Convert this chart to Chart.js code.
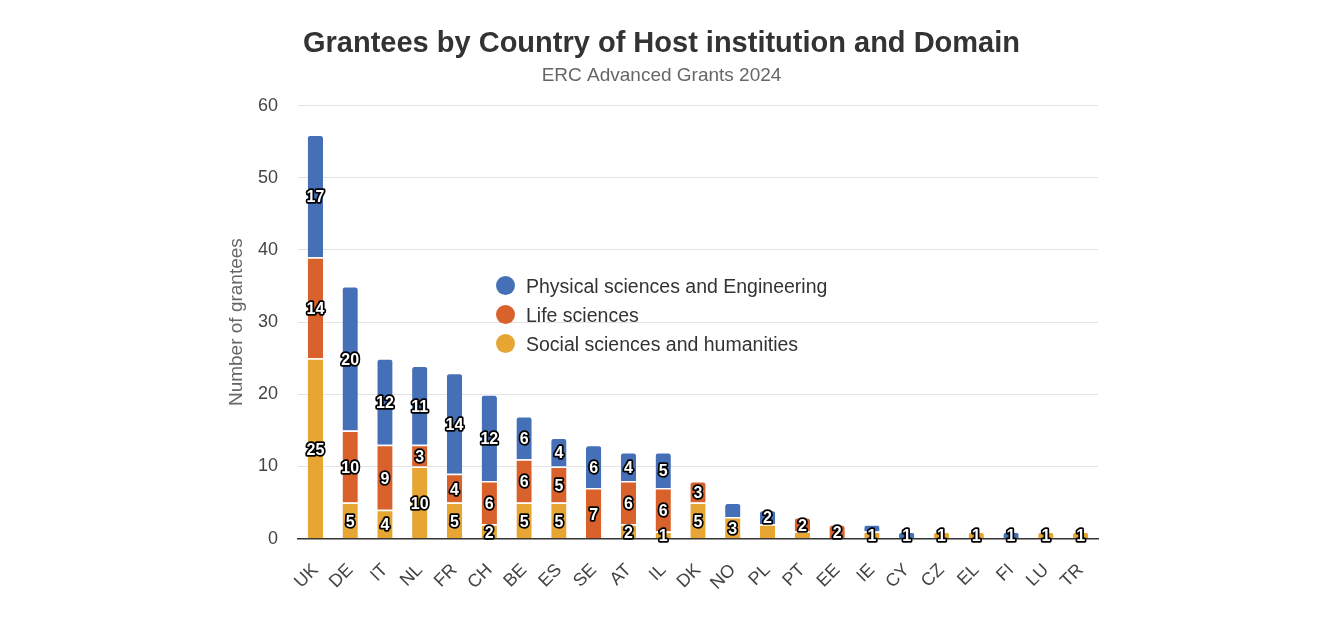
<!DOCTYPE html>
<html>
<head>
<meta charset="utf-8">
<script src="https://cdn.jsdelivr.net/npm/chart.js@4"></script>
<style>
  html, body { margin: 0; padding: 0; background: #fff; }
  #wrap { position: relative; width: 1320px; height: 636px; }
  #legend { position: absolute; left: 496px; top: 271px; font-family: "Liberation Sans", Arial, sans-serif; font-size: 19.5px; color: #333; }
  #legend div { height: 29px; line-height: 28px; display: flex; align-items: center; }
  #legend span.dot { width: 19px; height: 19px; border-radius: 50%; display: inline-block; margin-right: 11px; }
</style>
</head>
<body>
<div id="wrap">
  <canvas id="chart" width="1320" height="636"></canvas>
  <div id="legend"></div>
</div>
<script>
// Data
const countries = ["UK", "DE", "IT", "NL", "FR", "CH", "BE", "ES", "SE", "AT", "IL", "DK",
                   "NO", "PL", "PT", "EE", "IE", "CY", "CZ", "EL", "FI", "LU", "TR"];
const socialSciences   = [25, 5, 4, 10, 5, 2, 5, 5, 0, 2, 1, 5, 3, 2, 1, 0, 1, 0, 1, 1, 0, 1, 1];
const lifeSciences     = [14, 10, 9, 3, 4, 6, 6, 5, 7, 6, 6, 3, 0, 0, 2, 2, 0, 0, 0, 0, 0, 0, 0];
const physicalSciences = [17, 20, 12, 11, 14, 12, 6, 4, 6, 4, 5, 0, 2, 2, 0, 0, 1, 1, 0, 0, 1, 0, 0];
const yTicks = [0, 10, 20, 30, 40, 50, 60];
// labels the original chart leaves out where they would collide
const hiddenLabels = ["NO:Physical sciences and Engineering", "PL:Social sciences and humanities",
                      "PT:Social sciences and humanities", "IE:Physical sciences and Engineering"];

const FONT = '"Liberation Sans", Arial, sans-serif';
const colors = {
    physical: "#4570b8",
    life: "#d9612c",
    social: "#e7a634"
};

const toBars = arr => arr.map(v => v === 0 ? null : v);

const datasets = [
    { label: "Social sciences and humanities", data: toBars(socialSciences), backgroundColor: colors.social },
    { label: "Life sciences", data: toBars(lifeSciences), backgroundColor: colors.life },
    { label: "Physical sciences and Engineering", data: toBars(physicalSciences), backgroundColor: colors.physical }
].map(ds => Object.assign(ds, {
    borderColor: "#ffffff",
    borderWidth: { top: 1.5, left: 0, right: 0, bottom: 0 },
    borderRadius: 4,
    barPercentage: 0.44,
    categoryPercentage: 1
}));

// Draw the segment values (white text, black outline)
const segmentLabels = {
    id: "segmentLabels",
    afterDatasetsDraw(chart) {
        const ctx = chart.ctx;
        ctx.save();
        ctx.font = "bold 16px " + FONT;
        ctx.textAlign = "center";
        ctx.textBaseline = "middle";
        ctx.lineJoin = "round";
        chart.data.datasets.forEach((ds, di) => {
            const meta = chart.getDatasetMeta(di);
            meta.data.forEach((bar, i) => {
                const v = ds.data[i];
                if (!v) return;
                if (hiddenLabels.includes(countries[i] + ":" + ds.label)) return;
                const y = (bar.y + bar.base) / 2;
                ctx.lineWidth = 3.5;
                ctx.strokeStyle = "#000";
                ctx.strokeText(String(v), bar.x, y + 2);
                ctx.fillStyle = "#fff";
                ctx.fillText(String(v), bar.x, y + 2);
            });
        });
        ctx.restore();
    }
};

const chart = new Chart(document.getElementById("chart"), {
    type: "bar",
    data: { labels: countries, datasets: datasets },
    options: {
        responsive: false,
        animation: false,
        layout: { padding: { left: 225, right: 222, top: 27, bottom: 29 } },
        plugins: {
            legend: { display: false },
            tooltip: { enabled: false },
            title: {
                display: true,
                text: "Grantees by Country of Host institution and Domain",
                color: "#333",
                font: { family: FONT, size: 29, weight: "bold" },
                padding: { top: 0, bottom: 3 }
            },
            subtitle: {
                display: true,
                text: "ERC Advanced Grants 2024",
                color: "#666",
                font: { family: FONT, size: 19 },
                padding: { top: 0, bottom: 18 }
            }
        },
        scales: {
            x: {
                stacked: true,
                grid: { display: false },
                border: { display: true, color: "#333", width: 1.5 },
                ticks: {
                    color: "#444",
                    font: { family: FONT, size: 18 },
                    autoSkip: false,
                    minRotation: 45,
                    maxRotation: 45,
                    padding: 13
                }
            },
            y: {
                stacked: true,
                min: 0,
                max: 60,
                afterBuildTicks: scale => { scale.ticks = yTicks.map(v => ({ value: v })); },
                afterFit: scale => { scale.width = 73; },
                grid: { color: "#e3e3e3", drawTicks: false },
                border: { display: false },
                ticks: {
                    color: "#444",
                    font: { family: FONT, size: 18 },
                    padding: 20
                },
                title: {
                    display: true,
                    text: "Number of grantees",
                    color: "#666",
                    font: { family: FONT, size: 19 },
                    padding: 0
                }
            }
        }
    },
    plugins: [segmentLabels]
});

// Legend, in the original's order
const legendEl = document.getElementById("legend");
[datasets[2], datasets[1], datasets[0]].forEach(ds => {
    const row = document.createElement("div");
    row.innerHTML = `<span class="dot" style="background:${ds.backgroundColor}"></span><span>${ds.label}</span>`;
    legendEl.appendChild(row);
});
</script>
</body>
</html>
